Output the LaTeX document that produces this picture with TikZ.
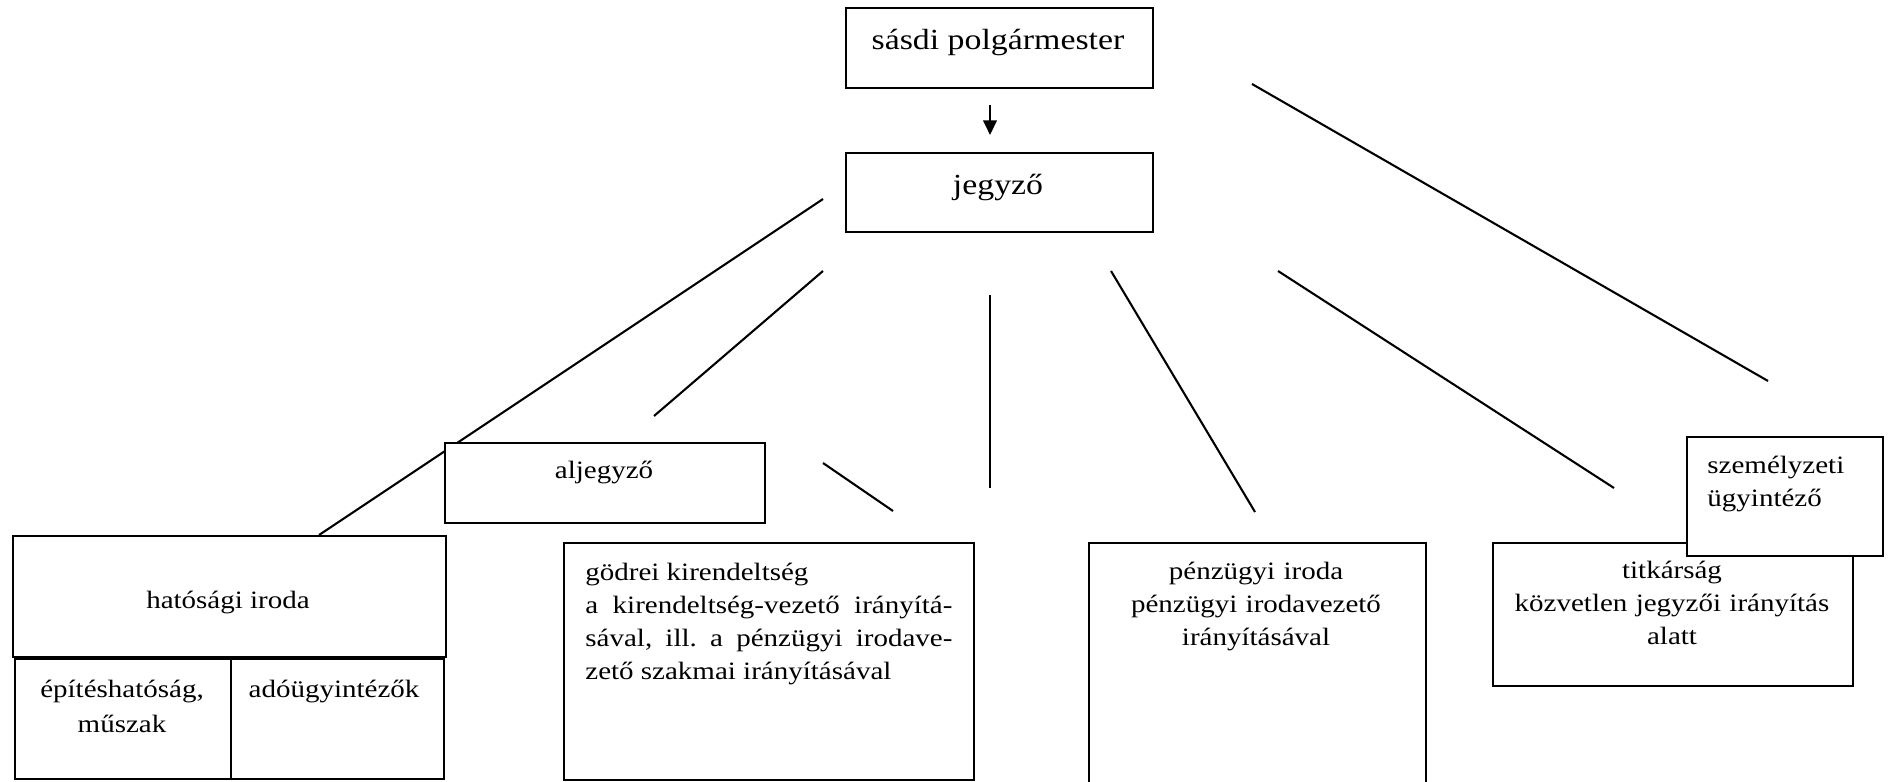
\documentclass[tikz,border=0pt]{standalone}
\usepackage{fontspec}
\setmainfont{Liberation Serif}[FakeStretch=1.16]
\usetikzlibrary{arrows.meta}
\frenchspacing

\begin{document}
\begin{tikzpicture}[x=0.48pt, y=-0.48pt,
        doboz/.style={draw, line width=1pt, fill=white, inner sep=0pt, anchor=north west},
        meret/.style 2 args={minimum width=#1*0.48pt, minimum height=#2*0.48pt},
        felirat/.style={inner sep=0pt, anchor=base, font=\fontsize{12}{15.9}\selectfont},
        nagyfelirat/.style={inner sep=0pt, anchor=base, font=\fontsize{14}{16.8}\selectfont},
        vonal/.style={line width=1pt},
        nyil/.style={line width=1pt, -{Triangle[length=7pt, width=6.5pt]}}]
    \useasboundingbox (0,0) rectangle (1889,782);
    \clip (0,0) rectangle (1889,782);
    % vonalak
    \coordinate (v1a) at (823,199);  \coordinate (v1b) at (319,535);
    \coordinate (v2a) at (823,271);  \coordinate (v2b) at (654,416);
    \coordinate (v3a) at (990,295);  \coordinate (v3b) at (990,488);
    \coordinate (v4a) at (1111,271); \coordinate (v4b) at (1255,512);
    \coordinate (v5a) at (1278,271); \coordinate (v5b) at (1614,488);
    \coordinate (v6a) at (1252,84);  \coordinate (v6b) at (1768,381);
    \coordinate (v7a) at (823,463);  \coordinate (v7b) at (893,511);
    \coordinate (ny1) at (990,105);  \coordinate (ny2) at (990,135);
    \draw[vonal] (v1a) -- (v1b);
    \draw[vonal] (v2a) -- (v2b);
    \draw[vonal] (v3a) -- (v3b);
    \draw[vonal] (v4a) -- (v4b);
    \draw[vonal] (v5a) -- (v5b);
    \draw[vonal] (v6a) -- (v6b);
    \draw[vonal] (v7a) -- (v7b);
    \draw[nyil] (ny1) -- (ny2);
    % dobozok
    \node[doboz, meret={307}{80}]  (polg) at (845,7) {};
    \node[doboz, meret={307}{79}]  (jegyzo) at (845,152) {};
    \node[doboz, meret={320}{80}]  (aljegyzo) at (444,442) {};
    \node[doboz, meret={433}{121}] (hatosagi) at (12,535) {};
    \node[doboz, meret={216}{120}] (epites) at (14,658) {};
    \node[doboz, meret={213}{120}] (ado) at (230,658) {};
    \node[doboz, meret={410}{237}] (godrei) at (563,542) {};
    \node[doboz, meret={337}{270}] (penzugyi) at (1088,542) {};
    \node[doboz, meret={360}{143}] (titkarsag) at (1492,542) {};
    \node[doboz, meret={196}{119}] (szemelyzeti) at (1686,436) {};
    % szovegek
    \node[nagyfelirat] (polg-t) at (998,50) {sásdi polgármester};
    \node[nagyfelirat] (jegyzo-t) at (998,195) {jegyző};
    \node[felirat] (aljegyzo-t) at (604,478) {aljegyző};
    \node[felirat] (hatosagi-t) at (228,608) {hatósági iroda};
    \node[felirat, text width=200*0.48pt, align=center, font=\fontsize{12}{16.8}\selectfont] (epites-t) at (122,697) {építéshatóság,\\ műszak};
    \node[felirat] (ado-t) at (334,697) {adóügyintézők};
    \node[felirat, anchor=base west, text width=367*0.48pt, align=justify] (godrei-t) at (585,580)
        {gödrei kirendeltség\newline a kirendeltség-vezető irányítá-\linebreak sával, ill. a pénzügyi irodave-\linebreak zető szakmai irányításával};
    \node[felirat, text width=320*0.48pt, align=center] (penzugyi-t) at (1256,579)
        {pénzügyi iroda\\ pénzügyi irodavezető\\ irányításával};
    \node[felirat, text width=350*0.48pt, align=center] (titkarsag-t) at (1672,578)
        {titkárság\\ közvetlen jegyzői irányítás\\ alatt};
    \node[felirat, anchor=base west, text width=170*0.48pt, align=left] (szemelyzeti-t) at (1707,473)
        {személyzeti\\ ügyintéző};
\end{tikzpicture}
\end{document}
